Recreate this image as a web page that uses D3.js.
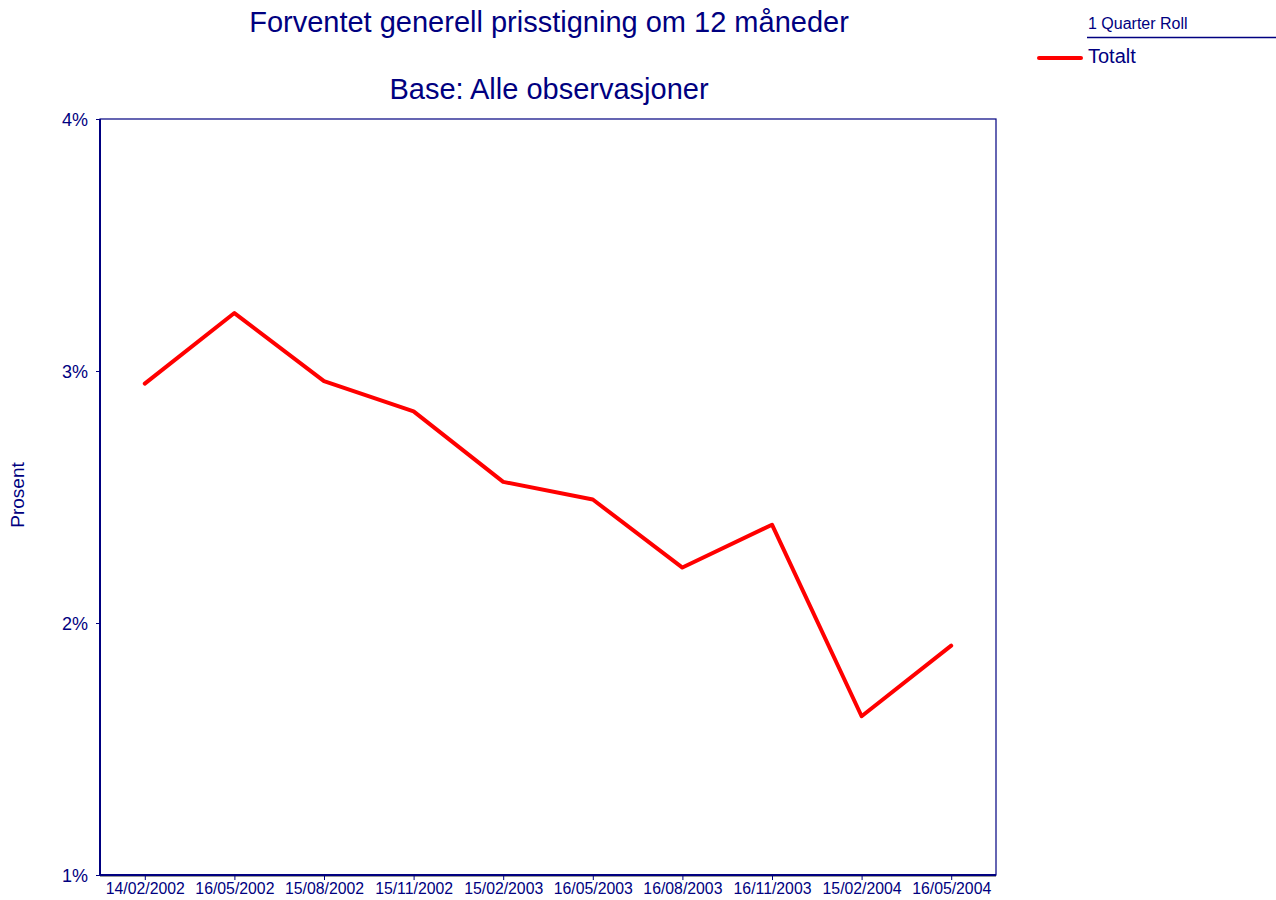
<html>
<head>
<style>
    body { margin: 0; background: white; }
    text { font-family: "Liberation Sans", Arial, sans-serif; fill: #000080; }
</style>
</head>
<body>
<svg id="container" width="1276" height="900">
    <g id="body" />
</svg>
<script src="https://d3js.org/d3.v7.min.js"></script>
<script>
    let dates = ["14/02/2002", "16/05/2002", "15/08/2002", "15/11/2002", "15/02/2003",
        "16/05/2003", "16/08/2003", "16/11/2003", "15/02/2004", "16/05/2004"]
    let totalt = [2.95, 3.23, 2.96, 2.84, 2.56, 2.49, 2.22, 2.39, 1.63, 1.91]
    let yTicks = [1, 2, 3, 4]

    let navy = "#000080"
    let svg = d3.select("#container")
    let body = d3.select("#body")

    let plotLeft = 100, plotRight = 996, plotTop = 119, plotBottom = 875

    let x = d3.scalePoint().domain(dates).range([plotLeft, plotRight]).padding(0.5)
    let y = d3.scaleLinear().domain([1, 4]).range([plotBottom, plotTop])

    // titles
    svg.append("text").attr("x", 549).attr("y", 32).attr("text-anchor", "middle")
        .style("font-size", "29px").text("Forventet generell prisstigning om 12 måneder")
    svg.append("text").attr("x", 549).attr("y", 99).attr("text-anchor", "middle")
        .style("font-size", "29px").text("Base: Alle observasjoner")

    // plot frame
    body.append("rect").attr("x", plotLeft).attr("y", plotTop)
        .attr("width", plotRight - plotLeft).attr("height", plotBottom - plotTop)
        .attr("fill", "none").attr("stroke", navy).attr("stroke-width", 1.2)
    body.append("line").attr("x1", plotLeft).attr("x2", plotRight).attr("y1", plotBottom + 1.5).attr("y2", plotBottom + 1.5)
        .attr("stroke", "#999").attr("stroke-width", 1)
    body.append("line").attr("x1", plotLeft).attr("x2", plotRight).attr("y1", plotBottom).attr("y2", plotBottom)
        .attr("stroke", navy).attr("stroke-width", 2)
    body.append("line").attr("x1", plotLeft).attr("x2", plotLeft).attr("y1", plotTop).attr("y2", plotBottom)
        .attr("stroke", navy).attr("stroke-width", 2)

    // y axis
    let yAxis = body.append("g").attr("transform", `translate(${plotLeft},0)`)
        .call(d3.axisLeft(y).tickValues(yTicks).tickFormat(d => d + "%").tickSize(4).tickPadding(8))
    yAxis.select(".domain").remove()
    yAxis.selectAll("line").attr("stroke", navy)
    yAxis.selectAll("text").style("font-size", "18px").attr("dy", "0.35em")

    // x axis
    let xAxis = body.append("g").attr("transform", `translate(0,${plotBottom})`)
        .call(d3.axisBottom(x).tickSize(5).tickPadding(3))
    xAxis.select(".domain").remove()
    xAxis.selectAll("line").attr("stroke", navy)
    xAxis.selectAll("text").style("font-size", "15.8px")

    svg.append("text").attr("transform", "translate(24,495) rotate(-90)")
        .attr("text-anchor", "middle").style("font-size", "19px").text("Prosent")

    // line
    let line = d3.line().x((d, i) => x(dates[i])).y(d => y(d))
    body.append("path").datum(totalt)
        .attr("d", line)
        .attr("fill", "none").attr("stroke", "#ff0000").attr("stroke-width", 4)
        .attr("stroke-linejoin", "round").attr("stroke-linecap", "round")

    // legend
    svg.append("text").attr("x", 1088).attr("y", 29).style("font-size", "16px").text("1 Quarter Roll")
    svg.append("line").attr("x1", 1087).attr("x2", 1276).attr("y1", 37.5).attr("y2", 37.5)
        .attr("stroke", navy).attr("stroke-width", 1.5)
    svg.append("line").attr("x1", 1039).attr("x2", 1081).attr("y1", 58).attr("y2", 58)
        .attr("stroke", "#ff0000").attr("stroke-width", 4).attr("stroke-linecap", "round")
    svg.append("text").attr("x", 1088).attr("y", 63).style("font-size", "20px").text("Totalt")
</script>
</body>
</html>
